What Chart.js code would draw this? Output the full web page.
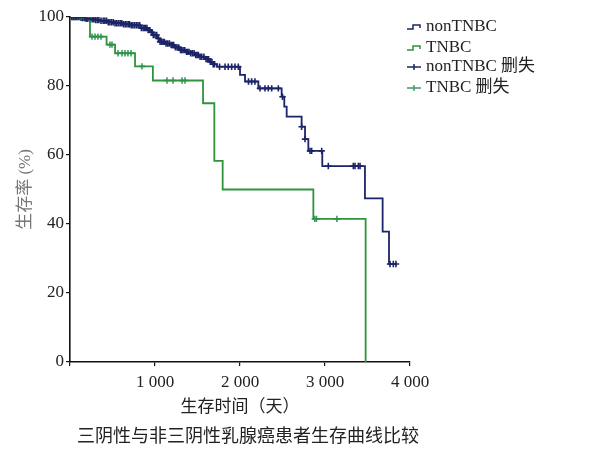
<!DOCTYPE html>
<html><head><meta charset="utf-8">
<script src="https://cdn.jsdelivr.net/npm/chart.js@4.4.0/dist/chart.umd.min.js"></script>
<style>html,body{margin:0;padding:0;background:#fff;}#wrap{width:599px;height:459px;}</style>
</head><body><div id="wrap"><canvas id="c" width="599" height="459"></canvas></div>
<script>
// Kaplan-Meier step data (time in days, survival %)
const nonTnbcTimes = [0,118,176,235,294,353,447,529,612,706,824,906,941,976,1024,1059,1118,1176,1235,1294,1353,1412,1471,1529,1588,1647,1682,1729,2000,2059,2216,2490,2521,2549,2725,2765,2804,2968,3470,3678,3753,3843];
const nonTnbcSurv  = [100,99.8,99.5,99.3,99.1,98.9,98.5,98.2,97.9,97.6,96.8,96.2,95.6,94.8,93.8,92.8,92.3,91.9,91.2,90.4,89.9,89.5,89.0,88.5,87.8,87.0,86.3,85.6,83.2,81.3,79.3,76.9,74.0,71.1,68.2,64.6,61.2,56.8,47.4,37.8,28.4,28.4];
const tnbcTimes = [0,120,235,430,530,765,975,1565,1698,1796,2863,3478];
const tnbcSurv  = [100,99.6,94.3,92,89.5,85.7,81.6,75,58.3,50,41.5,0];
// censored observation times
const nonTnbcCensor = [20,40,60,80,105,130,150,170,190,210,235,260,280,300,320,340,365,390,410,430,450,470,490,510,530,550,570,590,610,630,650,670,690,700,720,740,760,780,800,820,840,860,875,890,905,920,940,960,980,1000,1020,1040,1060,1080,1095,1110,1130,1150,1170,1190,1205,1220,1240,1260,1280,1300,1315,1330,1350,1370,1385,1400,1420,1440,1460,1480,1495,1510,1530,1550,1575,1600,1615,1630,1650,1670,1685,1700,1760,1824,1862,1902,1941,1980,2100,2137,2176,2235,2294,2333,2373,2451,2500,2725,2765,2824,2843,2961,3039,3333,3353,3392,3412,3765,3804,3835];
const tnbcCensor = [30,59,90,118,150,176,259,294,329,365,470,494,565,612,647,682,718,847,1141,1212,1318,1353,2880,2900,3140];
const xTicks = [0,1000,2000,3000,4000];
const yTicks = [0,20,40,60,80,100];
const legendLabels = ['nonTNBC','TNBC','nonTNBC 删失','TNBC 删失'];
const xTitle = '生存时间（天）';
const yTitle = '生存率 (%)';
const caption = '三阴性与非三阴性乳腺癌患者生存曲线比较';

const NAVY = '#1c2468';
const GREEN = '#2e943c';
const CGREEN = '#3a9a6a';
const SERIF = "'Liberation Serif','Noto Sans CJK SC',serif";

function toPts(ts, ss){ return ts.map((t,i)=>({x:t,y:ss[i]})); }
function survAt(ts, ss, t){ let v = ss[0]; for(let i=0;i<ts.length;i++){ if(ts[i]<=t) v=ss[i]; } return v; }
function censorPts(cs, ts, ss){ return cs.map(t=>({x:t,y:survAt(ts,ss,t)})); }

const overlay = {
  id:'overlay',
  afterDraw(chart){
    const ctx = chart.ctx;
    ctx.save();
    const rows = [27,48,67,88];
    const sx = 407, tx = 426;
    ctx.lineWidth = 1.5;
    [[NAVY,rows[0]],[GREEN,rows[1]]].forEach(([c,y])=>{
      ctx.strokeStyle=c; ctx.beginPath();
      ctx.moveTo(sx,y+2); ctx.lineTo(sx+6,y+2); ctx.lineTo(sx+6,y-2); ctx.lineTo(sx+13,y-2); ctx.lineTo(sx+13,y+1);
      ctx.stroke();
    });
    [[NAVY,rows[2]],[CGREEN,rows[3]]].forEach(([c,y])=>{
      ctx.strokeStyle=c; ctx.beginPath();
      ctx.moveTo(sx,y); ctx.lineTo(sx+14,y);
      ctx.moveTo(sx+7,y-3); ctx.lineTo(sx+7,y+3);
      ctx.stroke();
    });
    ctx.fillStyle='#222'; ctx.font = "17px "+SERIF; ctx.textBaseline='middle'; ctx.textAlign='left';
    legendLabels.forEach((l,i)=>ctx.fillText(l,tx,rows[i]));
    ctx.font = "18px "+SERIF; ctx.textAlign='center';
    ctx.fillText(caption, 248, 437);
    ctx.restore();
  }
};

new Chart(document.getElementById('c'), {
  type:'line',
  data:{ datasets:[
    {label:'nonTNBC', data:toPts(nonTnbcTimes,nonTnbcSurv), stepped:true, borderColor:NAVY, borderWidth:1.8, pointRadius:0, fill:false},
    {label:'TNBC', data:toPts(tnbcTimes,tnbcSurv), stepped:true, borderColor:GREEN, borderWidth:1.8, pointRadius:0, fill:false},
    {label:'nonTNBC 删失', data:censorPts(nonTnbcCensor,nonTnbcTimes,nonTnbcSurv), showLine:false, pointStyle:'cross', pointRadius:3.2, pointBorderWidth:1.6, borderColor:NAVY, backgroundColor:NAVY},
    {label:'TNBC 删失', data:censorPts(tnbcCensor,tnbcTimes,tnbcSurv), showLine:false, pointStyle:'cross', pointRadius:3.2, pointBorderWidth:1.6, borderColor:CGREEN, backgroundColor:CGREEN}
  ]},
  options:{
    responsive:false, animation:false, devicePixelRatio:1,
    layout:{padding:{top:17,right:189,bottom:35,left:0}},
    plugins:{legend:{display:false}, tooltip:{enabled:false}},
    scales:{
      x:{type:'linear', min:0, max:4000,
        afterFit:s=>{s.height=62;},
        afterBuildTicks:s=>{s.ticks = xTicks.map(v=>({value:v}));},
        grid:{drawOnChartArea:false, drawTicks:true, tickLength:4, color:'#111', lineWidth:1.2},
        border:{color:'#111', width:1.6},
        ticks:{padding:6, color:'#222', font:{family:SERIF,size:17}, maxRotation:0,
          callback:v=> v===0 ? '' : String(v).replace(/\B(?=(\d{3})+(?!\d))/g,' ')},
        title:{display:true, text:xTitle, color:'#222', font:{family:SERIF,size:17}, padding:{top:0,bottom:6}}
      },
      y:{type:'linear', min:0, max:100,
        afterFit:s=>{s.width=70;},
        afterBuildTicks:s=>{s.ticks = yTicks.map(v=>({value:v}));},
        grid:{drawOnChartArea:false, drawTicks:true, tickLength:4, color:'#111', lineWidth:1.2},
        border:{color:'#111', width:1.6},
        ticks:{padding:2, color:'#222', font:{family:SERIF,size:17}},
        title:{display:true, text:yTitle, color:'#777', font:{family:SERIF,size:17}, padding:{top:15,bottom:0}}
      }
    }
  },
  plugins:[overlay]
});
</script></body></html>
